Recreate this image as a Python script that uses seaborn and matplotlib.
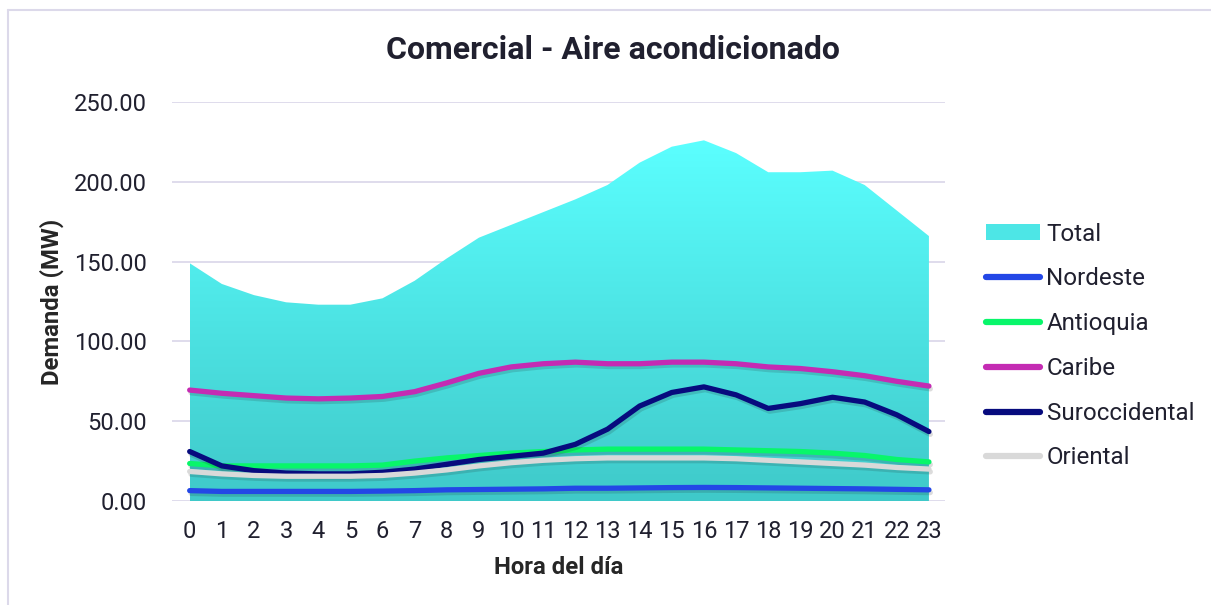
import numpy as np
import pandas as pd
import seaborn as sns
import matplotlib.pyplot as plt
import matplotlib.patheffects as pe
from matplotlib.lines import Line2D
from matplotlib.patches import Patch
from matplotlib.colors import LinearSegmentedColormap

# Hourly demand (MW)
hours = list(range(24))
total = [149, 136, 129, 124.5, 123, 123, 127, 138, 152, 165, 173, 181,
         189, 198, 212, 222, 226, 218, 206, 206, 207, 198, 182, 166]
nordeste = [6.5, 6, 6, 6, 6, 6, 6.2, 6.5, 7, 7.2, 7.4, 7.6,
            8, 8, 8.2, 8.4, 8.5, 8.4, 8.2, 8, 7.8, 7.6, 7.3, 7]
antioquia = [23.5, 22, 22, 22, 22, 22, 22.5, 25, 27, 28.5, 30, 31,
             32, 32.5, 32.5, 32.5, 32.5, 32, 31.5, 31, 30, 28.5, 26, 24.5]
caribe = [69.5, 67.5, 66, 64.5, 64, 64.5, 65.5, 68.5, 74, 80, 84, 86,
          87, 86, 86, 87, 87, 86, 84, 83, 81, 78.5, 75, 72]
suroccidental = [31, 22, 19, 17.5, 17, 17, 18, 20, 23, 26, 28, 30,
                 35.5, 45, 59.5, 68, 71.5, 66.5, 58, 61, 65, 62, 54, 43.5]
oriental = [18.5, 17, 16, 15.5, 15.5, 15.5, 16, 17.5, 19.5, 22, 24, 25.5,
            26.5, 27, 27, 27, 27, 26.5, 25.5, 24.5, 23.5, 22.5, 21, 20]

region_names = ["Nordeste", "Antioquia", "Caribe", "Suroccidental", "Oriental"]
region_values = [nordeste, antioquia, caribe, suroccidental, oriental]
region_colors = ["#2347E6", "#08F66A", "#C42BB3", "#070B7E", "#D9D9D9"]

text_color = "#20202f"
grid_color = "#dcd9ea"

sns.set_theme(style="white")
plt.rcParams["font.family"] = ["Roboto", "DejaVu Sans"]
plt.rcParams["text.color"] = text_color

fig = plt.figure(figsize=(12.11, 6.05), dpi=100)
ax = fig.add_axes([172 / 1211, (605 - 501) / 605, (945 - 172) / 1211, (501 - 102) / 605])

# Total as an area with a vertical cyan gradient
area = ax.fill_between(hours, 0, total, color="none", linewidth=0, zorder=1)
grad_cmap = LinearSegmentedColormap.from_list("cyan_grad", ["#3fc9c9", "#5bffff"])
grad = np.linspace(0, 1, 256).reshape(-1, 1)
img = ax.imshow(grad, cmap=grad_cmap, aspect="auto", origin="lower",
                extent=[0, 23, 0, max(total)], zorder=1)
img.set_clip_path(area.get_paths()[0], transform=ax.transData)

# Regional lines
long_df = pd.DataFrame({
    "hora": hours * len(region_names),
    "demanda": sum(region_values, []),
    "region": [n for n in region_names for _ in hours],
})
sns.lineplot(data=long_df, x="hora", y="demanda", hue="region",
             hue_order=region_names, palette=region_colors, linewidth=3.8,
             solid_capstyle="round", legend=False, ax=ax, zorder=3)
for line in ax.get_lines():
    line.set_path_effects([pe.SimpleLineShadow(offset=(1, -2), alpha=0.15),
                           pe.Normal()])

ax.set_xlim(-0.55, 23.5)
ax.set_ylim(0, 250)
ax.set_xticks(hours)
ax.set_yticks(range(0, 251, 50))
ax.set_yticklabels([f"{v:.2f}" for v in range(0, 251, 50)])
ax.tick_params(axis="both", length=0, labelsize=17, colors=text_color)
ax.tick_params(axis="x", pad=14)
ax.tick_params(axis="y", pad=18)
ax.grid(axis="y", color=grid_color, linewidth=1.3)
ax.set_axisbelow(True)
for s in ax.spines.values():
    s.set_visible(False)

ax.set_xlabel("Hora del día", fontsize=17.2, fontweight="bold", labelpad=9)
ax.set_ylabel("Demanda (MW)", fontsize=17.2, fontweight="bold", labelpad=7)
fig.text(613 / 1211, 1 - 50 / 605, "Comercial - Aire acondicionado",
         ha="center", va="center", fontsize=23, fontweight="bold")

handles = [Patch(facecolor="#4de6e6", edgecolor="none")]
handles += [Line2D([0], [0], color=c, linewidth=4.5, solid_capstyle="round")
            for c in region_colors]
fig.legend(handles, ["Total"] + region_names, loc="center left",
           bbox_to_anchor=(974 / 1211, 1 - 346 / 605), frameon=False,
           fontsize=17.4, handlelength=2.25, handleheight=0.6,
           handletextpad=0.25, labelspacing=0.9, borderpad=0)

# light frame around the chart
fig.add_artist(Line2D([8 / 1211, 8 / 1211], [0, 1 - 10 / 605],
                      color=grid_color, linewidth=1.5, transform=fig.transFigure))
fig.add_artist(Line2D([8 / 1211, 1], [1 - 10 / 605, 1 - 10 / 605],
                      color=grid_color, linewidth=1.5, transform=fig.transFigure))

fig.savefig("out.png", dpi=100)
